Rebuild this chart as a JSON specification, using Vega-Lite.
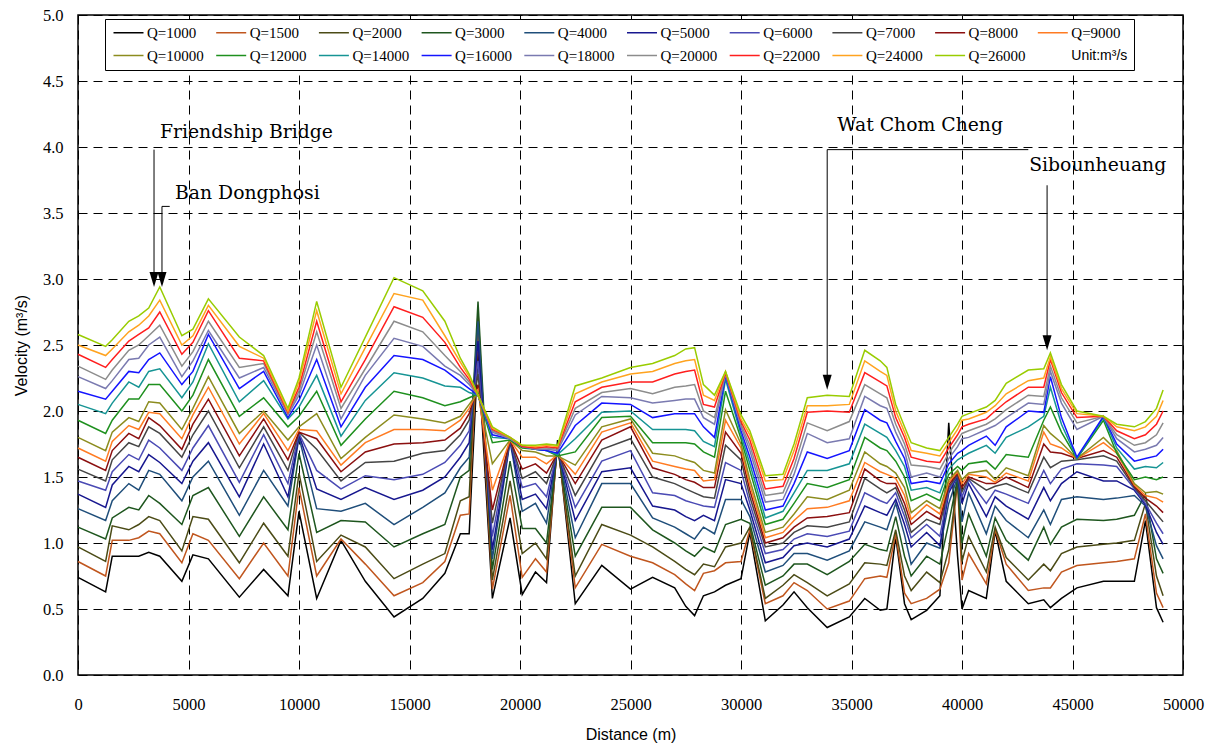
{
"$schema":"https://vega.github.io/schema/vega-lite/v6.json",
"width":1105,"height":660,
"autosize":{"type":"none"},
"padding":{"left":78,"top":15,"right":37,"bottom":72},
"background":"white",
"config":{
 "view":{"stroke":"black","strokeWidth":1.5},
 "axis":{"labelFont":"Liberation Serif","labelFontSize":16.5,"labelColor":"black","titleFont":"Liberation Sans","titleFontSize":16,"titleFontWeight":"normal","titleColor":"black","grid":true,"gridColor":"black","gridDash":[9,6],"gridWidth":1,"gridOpacity":1,"ticks":false,"domain":false,"labelFlush":false}
},
"layer":[
{
"data":{"values":[
{"d":0,"26000":2.58,"24000":2.50,"22000":2.43,"20000":2.34,"18000":2.26,"16000":2.15,"14000":2.05,"12000":1.93,"10000":1.80,"9000":1.72,"8000":1.65,"7000":1.56,"6000":1.47,"5000":1.37,"4000":1.26,"3000":1.12,"2000":0.97,"1500":0.86,"1000":0.74},
{"d":1250,"26000":2.49,"24000":2.42,"22000":2.33,"20000":2.24,"18000":2.17,"16000":2.09,"14000":1.98,"12000":1.83,"10000":1.70,"9000":1.62,"8000":1.55,"7000":1.47,"6000":1.40,"5000":1.27,"4000":1.17,"3000":1.03,"2000":0.86,"1500":0.75,"1000":0.63},
{"d":1550,"26000":2.54,"24000":2.47,"22000":2.39,"20000":2.31,"18000":2.23,"16000":2.15,"14000":2.06,"12000":1.93,"10000":1.84,"9000":1.77,"8000":1.70,"7000":1.63,"6000":1.54,"5000":1.44,"4000":1.32,"3000":1.19,"2000":1.13,"1500":1.02,"1000":0.90},
{"d":2300,"26000":2.68,"24000":2.60,"22000":2.53,"20000":2.46,"18000":2.39,"16000":2.30,"14000":2.22,"12000":2.09,"10000":1.95,"9000":1.89,"8000":1.83,"7000":1.76,"6000":1.67,"5000":1.58,"4000":1.45,"3000":1.27,"2000":1.10,"1500":1.02,"1000":0.90},
{"d":2750,"26000":2.72,"24000":2.65,"22000":2.58,"20000":2.50,"18000":2.40,"16000":2.29,"14000":2.18,"12000":2.09,"10000":1.92,"9000":1.86,"8000":1.79,"7000":1.73,"6000":1.63,"5000":1.54,"4000":1.40,"3000":1.25,"2000":1.14,"1500":1.04,"1000":0.90},
{"d":3200,"26000":2.78,"24000":2.72,"22000":2.63,"20000":2.57,"18000":2.50,"16000":2.39,"14000":2.30,"12000":2.20,"10000":2.07,"9000":1.99,"8000":1.95,"7000":1.88,"6000":1.78,"5000":1.67,"4000":1.55,"3000":1.36,"2000":1.20,"1500":1.09,"1000":0.93},
{"d":3700,"26000":2.94,"24000":2.84,"22000":2.75,"20000":2.65,"18000":2.56,"16000":2.44,"14000":2.32,"12000":2.20,"10000":2.06,"9000":1.98,"8000":1.89,"7000":1.83,"6000":1.72,"5000":1.61,"4000":1.52,"3000":1.30,"2000":1.17,"1500":1.07,"1000":0.90},
{"d":4700,"26000":2.57,"24000":2.50,"22000":2.43,"20000":2.34,"18000":2.26,"16000":2.20,"14000":2.10,"12000":2.00,"10000":1.86,"9000":1.79,"8000":1.71,"7000":1.65,"6000":1.55,"5000":1.45,"4000":1.32,"3000":1.14,"2000":0.94,"1500":0.85,"1000":0.71},
{"d":5200,"26000":2.62,"24000":2.57,"22000":2.52,"20000":2.45,"18000":2.38,"16000":2.30,"14000":2.22,"12000":2.12,"10000":2.02,"9000":1.97,"8000":1.90,"7000":1.82,"6000":1.72,"5000":1.62,"4000":1.50,"3000":1.36,"2000":1.20,"1500":1.07,"1000":0.91},
{"d":5900,"26000":2.85,"24000":2.80,"22000":2.76,"20000":2.68,"18000":2.61,"16000":2.58,"14000":2.51,"12000":2.39,"10000":2.26,"9000":2.18,"8000":2.09,"7000":2.00,"6000":1.89,"5000":1.76,"4000":1.62,"3000":1.42,"2000":1.18,"1500":1.02,"1000":0.88},
{"d":7300,"26000":2.56,"24000":2.49,"22000":2.40,"20000":2.33,"18000":2.25,"16000":2.17,"14000":2.07,"12000":1.96,"10000":1.83,"9000":1.75,"8000":1.66,"7000":1.57,"6000":1.46,"5000":1.35,"4000":1.21,"3000":1.05,"2000":0.85,"1500":0.73,"1000":0.59},
{"d":8400,"26000":2.42,"24000":2.40,"22000":2.38,"20000":2.36,"18000":2.33,"16000":2.30,"14000":2.23,"12000":2.10,"10000":2.00,"9000":1.98,"8000":1.94,"7000":1.88,"6000":1.82,"5000":1.75,"4000":1.55,"3000":1.35,"2000":1.15,"1500":1.00,"1000":0.80},
{"d":9500,"26000":2.02,"24000":2.00,"22000":1.99,"20000":1.98,"18000":1.97,"16000":1.95,"14000":1.94,"12000":1.88,"10000":1.78,"9000":1.70,"8000":1.63,"7000":1.55,"6000":1.45,"5000":1.35,"4000":1.28,"3000":1.10,"2000":0.90,"1500":0.75,"1000":0.60},
{"d":10000,"26000":2.25,"24000":2.22,"22000":2.18,"20000":2.15,"18000":2.12,"16000":2.08,"14000":2.03,"12000":1.96,"10000":1.88,"9000":1.86,"8000":1.84,"7000":1.84,"6000":1.83,"5000":1.82,"4000":1.80,"3000":1.68,"2000":1.53,"1500":1.42,"1000":1.24},
{"d":10800,"26000":2.83,"24000":2.76,"22000":2.68,"20000":2.60,"18000":2.50,"16000":2.39,"14000":2.27,"12000":2.15,"10000":1.98,"9000":1.85,"8000":1.79,"7000":1.71,"6000":1.55,"5000":1.41,"4000":1.26,"3000":1.08,"2000":0.86,"1500":0.75,"1000":0.58},
{"d":11900,"26000":2.18,"24000":2.13,"22000":2.07,"20000":2.02,"18000":1.94,"16000":1.88,"14000":1.81,"12000":1.74,"10000":1.64,"9000":1.59,"8000":1.54,"7000":1.47,"6000":1.41,"5000":1.33,"4000":1.24,"3000":1.17,"2000":1.06,"1500":1.03,"1000":1.02},
{"d":13000,"26000":2.56,"24000":2.48,"22000":2.39,"20000":2.32,"18000":2.27,"16000":2.18,"14000":2.08,"12000":1.94,"10000":1.80,"9000":1.76,"8000":1.69,"7000":1.61,"6000":1.51,"5000":1.42,"4000":1.30,"3000":1.16,"2000":0.97,"1500":0.84,"1000":0.71},
{"d":14300,"26000":3.01,"24000":2.89,"22000":2.79,"20000":2.68,"18000":2.55,"16000":2.42,"14000":2.29,"12000":2.15,"10000":1.97,"9000":1.86,"8000":1.75,"7000":1.62,"6000":1.48,"5000":1.33,"4000":1.14,"3000":0.97,"2000":0.73,"1500":0.60,"1000":0.44},
{"d":15600,"26000":2.91,"24000":2.84,"22000":2.71,"20000":2.60,"18000":2.49,"16000":2.39,"14000":2.25,"12000":2.10,"10000":1.94,"9000":1.86,"8000":1.76,"7000":1.68,"6000":1.52,"5000":1.40,"4000":1.27,"3000":1.07,"2000":0.84,"1500":0.70,"1000":0.58},
{"d":16600,"26000":2.68,"24000":2.57,"22000":2.52,"20000":2.42,"18000":2.34,"16000":2.31,"14000":2.19,"12000":2.04,"10000":1.91,"9000":1.85,"8000":1.78,"7000":1.70,"6000":1.61,"5000":1.50,"4000":1.38,"3000":1.14,"2000":0.92,"1500":0.86,"1000":0.77},
{"d":17300,"26000":2.40,"24000":2.37,"22000":2.33,"20000":2.30,"18000":2.27,"16000":2.22,"14000":2.18,"12000":2.07,"10000":1.96,"9000":1.93,"8000":1.87,"7000":1.82,"6000":1.74,"5000":1.65,"4000":1.57,"3000":1.50,"2000":1.32,"1500":1.21,"1000":1.07},
{"d":17700,"26000":2.28,"24000":2.26,"22000":2.24,"20000":2.22,"18000":2.20,"16000":2.17,"14000":2.14,"12000":2.10,"10000":2.05,"9000":2.02,"8000":1.98,"7000":1.93,"6000":1.85,"5000":1.76,"4000":1.65,"3000":1.55,"2000":1.35,"1500":1.22,"1000":1.07},
{"d":18100,"26000":2.12,"24000":2.12,"22000":2.12,"20000":2.12,"18000":2.12,"16000":2.12,"14000":2.12,"12000":2.13,"10000":2.14,"9000":2.16,"8000":2.20,"7000":2.28,"6000":2.38,"5000":2.53,"4000":2.68,"3000":2.83,"2000":2.75,"1500":2.60,"1000":2.45},
{"d":18750,"26000":1.88,"24000":1.87,"22000":1.86,"20000":1.85,"18000":1.84,"16000":1.82,"14000":1.80,"12000":1.76,"10000":1.60,"9000":1.40,"8000":1.25,"7000":1.15,"6000":1.05,"5000":0.95,"4000":0.88,"3000":0.80,"2000":0.72,"1500":0.65,"1000":0.58},
{"d":19550,"26000":1.80,"24000":1.80,"22000":1.80,"20000":1.79,"18000":1.79,"16000":1.79,"14000":1.79,"12000":1.78,"10000":1.78,"9000":1.78,"8000":1.78,"7000":1.78,"6000":1.78,"5000":1.78,"4000":1.77,"3000":1.62,"2000":1.47,"1500":1.36,"1000":1.19},
{"d":20100,"26000":1.74,"24000":1.74,"22000":1.73,"20000":1.73,"18000":1.73,"16000":1.73,"14000":1.73,"12000":1.72,"10000":1.70,"9000":1.65,"8000":1.56,"7000":1.49,"6000":1.42,"5000":1.33,"4000":1.24,"3000":1.11,"2000":0.92,"1500":0.74,"1000":0.61},
{"d":20700,"26000":1.74,"24000":1.73,"22000":1.72,"20000":1.72,"18000":1.71,"16000":1.71,"14000":1.71,"12000":1.71,"10000":1.69,"9000":1.65,"8000":1.60,"7000":1.54,"6000":1.45,"5000":1.37,"4000":1.30,"3000":1.11,"2000":1.00,"1500":0.88,"1000":0.78},
{"d":21200,"26000":1.75,"24000":1.74,"22000":1.73,"20000":1.72,"18000":1.71,"16000":1.70,"14000":1.70,"12000":1.70,"10000":1.66,"9000":1.60,"8000":1.53,"7000":1.45,"6000":1.35,"5000":1.26,"4000":1.15,"3000":1.00,"2000":0.88,"1500":0.78,"1000":0.70},
{"d":21700,"26000":1.74,"24000":1.73,"22000":1.72,"20000":1.71,"18000":1.70,"16000":1.68,"14000":1.67,"12000":1.66,"10000":1.66,"9000":1.67,"8000":1.68,"7000":1.69,"6000":1.70,"5000":1.71,"4000":1.72,"3000":1.73,"2000":1.74,"1500":1.75,"1000":1.78},
{"d":22500,"26000":2.19,"24000":2.13,"22000":2.07,"20000":2.02,"18000":1.97,"16000":1.89,"14000":1.79,"12000":1.69,"10000":1.59,"9000":1.52,"8000":1.45,"7000":1.36,"6000":1.27,"5000":1.17,"4000":1.04,"3000":0.90,"2000":0.75,"1500":0.66,"1000":0.54},
{"d":23700,"26000":2.25,"24000":2.22,"22000":2.18,"20000":2.14,"18000":2.11,"16000":2.06,"14000":1.99,"12000":1.95,"10000":1.88,"9000":1.84,"8000":1.78,"7000":1.71,"6000":1.62,"5000":1.54,"4000":1.45,"3000":1.27,"2000":1.14,"1500":0.99,"1000":0.83},
{"d":25000,"26000":2.33,"24000":2.28,"22000":2.22,"20000":2.17,"18000":2.10,"16000":2.05,"14000":2.00,"12000":1.96,"10000":1.94,"9000":1.91,"8000":1.88,"7000":1.79,"6000":1.70,"5000":1.57,"4000":1.45,"3000":1.27,"2000":1.06,"1500":0.90,"1000":0.65},
{"d":26000,"26000":2.36,"24000":2.30,"22000":2.22,"20000":2.13,"18000":2.06,"16000":1.95,"14000":1.86,"12000":1.76,"10000":1.68,"9000":1.62,"8000":1.57,"7000":1.50,"6000":1.38,"5000":1.28,"4000":1.19,"3000":1.10,"2000":0.97,"1500":0.85,"1000":0.74},
{"d":27000,"26000":2.42,"24000":2.36,"22000":2.28,"20000":2.18,"18000":2.08,"16000":1.98,"14000":1.86,"12000":1.76,"10000":1.66,"9000":1.58,"8000":1.52,"7000":1.45,"6000":1.36,"5000":1.25,"4000":1.12,"3000":1.00,"2000":0.86,"1500":0.76,"1000":0.66},
{"d":27500,"26000":2.47,"24000":2.38,"22000":2.30,"20000":2.19,"18000":2.09,"16000":1.98,"14000":1.86,"12000":1.76,"10000":1.63,"9000":1.56,"8000":1.48,"7000":1.41,"6000":1.32,"5000":1.20,"4000":1.07,"3000":0.94,"2000":0.80,"1500":0.69,"1000":0.52},
{"d":27900,"26000":2.48,"24000":2.39,"22000":2.31,"20000":2.20,"18000":2.09,"16000":1.98,"14000":1.85,"12000":1.75,"10000":1.61,"9000":1.55,"8000":1.46,"7000":1.38,"6000":1.30,"5000":1.17,"4000":1.03,"3000":0.90,"2000":0.76,"1500":0.64,"1000":0.45},
{"d":28300,"26000":2.20,"24000":2.12,"22000":2.05,"20000":2.00,"18000":1.95,"16000":1.88,"14000":1.77,"12000":1.69,"10000":1.55,"9000":1.47,"8000":1.42,"7000":1.35,"6000":1.28,"5000":1.21,"4000":1.12,"3000":0.97,"2000":0.84,"1500":0.77,"1000":0.60},
{"d":28800,"26000":2.12,"24000":2.08,"22000":2.03,"20000":1.95,"18000":1.90,"16000":1.80,"14000":1.73,"12000":1.65,"10000":1.53,"9000":1.48,"8000":1.42,"7000":1.34,"6000":1.27,"5000":1.17,"4000":1.07,"3000":0.93,"2000":0.82,"1500":0.79,"1000":0.63},
{"d":29300,"26000":2.30,"24000":2.30,"22000":2.29,"20000":2.29,"18000":2.28,"16000":2.27,"14000":2.24,"12000":2.15,"10000":2.01,"9000":1.93,"8000":1.84,"7000":1.74,"6000":1.61,"5000":1.48,"4000":1.33,"3000":1.14,"2000":0.97,"1500":0.85,"1000":0.68},
{"d":30000,"26000":1.97,"24000":1.94,"22000":1.92,"20000":1.90,"18000":1.88,"16000":1.85,"14000":1.82,"12000":1.79,"10000":1.75,"9000":1.72,"8000":1.68,"7000":1.63,"6000":1.55,"5000":1.45,"4000":1.33,"3000":1.18,"2000":1.00,"1500":0.86,"1000":0.73},
{"d":30400,"26000":1.85,"24000":1.82,"22000":1.78,"20000":1.74,"18000":1.70,"16000":1.65,"14000":1.60,"12000":1.55,"10000":1.48,"9000":1.44,"8000":1.40,"7000":1.35,"6000":1.30,"5000":1.25,"4000":1.20,"3000":1.15,"2000":1.12,"1500":1.10,"1000":1.08},
{"d":31100,"26000":1.51,"24000":1.47,"22000":1.41,"20000":1.36,"18000":1.31,"16000":1.25,"14000":1.19,"12000":1.14,"10000":1.08,"9000":1.04,"8000":1.00,"7000":0.97,"6000":0.92,"5000":0.85,"4000":0.78,"3000":0.68,"2000":0.58,"1500":0.54,"1000":0.41},
{"d":31900,"26000":1.52,"24000":1.48,"22000":1.43,"20000":1.38,"18000":1.33,"16000":1.28,"14000":1.24,"12000":1.18,"10000":1.12,"9000":1.08,"8000":1.04,"7000":1.00,"6000":0.95,"5000":0.89,"4000":0.83,"3000":0.75,"2000":0.68,"1500":0.60,"1000":0.53},
{"d":32400,"26000":1.75,"24000":1.70,"22000":1.64,"20000":1.58,"18000":1.52,"16000":1.45,"14000":1.38,"12000":1.30,"10000":1.22,"9000":1.17,"8000":1.12,"7000":1.08,"6000":1.03,"5000":0.98,"4000":0.92,"3000":0.84,"2000":0.76,"1500":0.70,"1000":0.63},
{"d":33000,"26000":2.10,"24000":2.04,"22000":1.99,"20000":1.91,"18000":1.83,"16000":1.69,"14000":1.55,"12000":1.45,"10000":1.35,"9000":1.26,"8000":1.19,"7000":1.13,"6000":1.07,"5000":1.00,"4000":0.92,"3000":0.84,"2000":0.70,"1500":0.64,"1000":0.51},
{"d":33900,"26000":2.12,"24000":2.04,"22000":2.00,"20000":1.85,"18000":1.76,"16000":1.64,"14000":1.55,"12000":1.42,"10000":1.33,"9000":1.27,"8000":1.20,"7000":1.12,"6000":1.05,"5000":0.97,"4000":0.87,"3000":0.76,"2000":0.60,"1500":0.50,"1000":0.36},
{"d":34900,"26000":2.11,"24000":2.05,"22000":1.99,"20000":1.92,"18000":1.79,"16000":1.70,"14000":1.60,"12000":1.48,"10000":1.40,"9000":1.32,"8000":1.23,"7000":1.16,"6000":1.09,"5000":1.03,"4000":0.94,"3000":0.86,"2000":0.69,"1500":0.56,"1000":0.44},
{"d":35600,"26000":2.46,"24000":2.38,"22000":2.29,"20000":2.20,"18000":2.11,"16000":2.01,"14000":1.90,"12000":1.80,"10000":1.69,"9000":1.61,"8000":1.56,"7000":1.49,"6000":1.38,"5000":1.28,"4000":1.16,"3000":0.99,"2000":0.85,"1500":0.73,"1000":0.58},
{"d":36300,"26000":2.38,"24000":2.30,"22000":2.22,"20000":2.13,"18000":2.04,"16000":1.93,"14000":1.83,"12000":1.72,"10000":1.60,"9000":1.54,"8000":1.47,"7000":1.41,"6000":1.32,"5000":1.23,"4000":1.12,"3000":0.95,"2000":0.84,"1500":0.75,"1000":0.49},
{"d":36600,"26000":2.33,"24000":2.27,"22000":2.19,"20000":2.10,"18000":2.02,"16000":1.91,"14000":1.80,"12000":1.70,"10000":1.58,"9000":1.52,"8000":1.45,"7000":1.38,"6000":1.30,"5000":1.21,"4000":1.10,"3000":0.94,"2000":0.83,"1500":0.74,"1000":0.50},
{"d":37000,"26000":2.05,"24000":2.00,"22000":1.95,"20000":1.90,"18000":1.84,"16000":1.77,"14000":1.70,"12000":1.62,"10000":1.53,"9000":1.49,"8000":1.45,"7000":1.42,"6000":1.38,"5000":1.33,"4000":1.30,"3000":1.20,"2000":1.10,"1500":1.07,"1000":1.05},
{"d":37400,"26000":1.88,"24000":1.84,"22000":1.80,"20000":1.75,"18000":1.70,"16000":1.64,"14000":1.58,"12000":1.50,"10000":1.42,"9000":1.36,"8000":1.30,"7000":1.25,"6000":1.20,"5000":1.14,"4000":1.06,"3000":0.90,"2000":0.75,"1500":0.62,"1000":0.54},
{"d":37700,"26000":1.76,"24000":1.70,"22000":1.65,"20000":1.59,"18000":1.50,"16000":1.45,"14000":1.40,"12000":1.32,"10000":1.23,"9000":1.18,"8000":1.14,"7000":1.08,"6000":1.04,"5000":0.97,"4000":0.84,"3000":0.75,"2000":0.64,"1500":0.54,"1000":0.42},
{"d":38400,"26000":1.72,"24000":1.68,"22000":1.62,"20000":1.58,"18000":1.53,"16000":1.47,"14000":1.42,"12000":1.37,"10000":1.32,"9000":1.29,"8000":1.24,"7000":1.18,"6000":1.14,"5000":1.08,"4000":1.00,"3000":0.90,"2000":0.78,"1500":0.58,"1000":0.49},
{"d":39000,"26000":1.70,"24000":1.66,"22000":1.61,"20000":1.56,"18000":1.50,"16000":1.45,"14000":1.38,"12000":1.32,"10000":1.26,"9000":1.22,"8000":1.18,"7000":1.14,"6000":1.05,"5000":0.98,"4000":0.96,"3000":0.84,"2000":0.70,"1500":0.65,"1000":0.60},
{"d":39400,"26000":1.80,"24000":1.76,"22000":1.72,"20000":1.68,"18000":1.64,"16000":1.60,"14000":1.56,"12000":1.52,"10000":1.48,"9000":1.46,"8000":1.44,"7000":1.42,"6000":1.40,"5000":1.38,"4000":1.30,"3000":1.15,"2000":0.95,"1500":0.85,"1000":1.91},
{"d":39800,"26000":1.90,"24000":1.86,"22000":1.82,"20000":1.78,"18000":1.73,"16000":1.68,"14000":1.63,"12000":1.58,"10000":1.55,"9000":1.54,"8000":1.53,"7000":1.52,"6000":1.52,"5000":1.51,"4000":1.50,"3000":1.49,"2000":1.48,"1500":1.46,"1000":0.90},
{"d":40000,"26000":1.96,"24000":1.93,"22000":1.88,"20000":1.83,"18000":1.79,"16000":1.70,"14000":1.65,"12000":1.55,"10000":1.48,"9000":1.45,"8000":1.42,"7000":1.39,"6000":1.35,"5000":1.30,"4000":1.16,"3000":1.00,"2000":0.86,"1500":0.72,"1000":0.50},
{"d":40300,"26000":1.98,"24000":1.94,"22000":1.90,"20000":1.85,"18000":1.80,"16000":1.74,"14000":1.68,"12000":1.60,"10000":1.53,"9000":1.52,"8000":1.50,"7000":1.49,"6000":1.48,"5000":1.45,"4000":1.38,"3000":1.22,"2000":1.05,"1500":0.92,"1000":0.64},
{"d":41100,"26000":2.03,"24000":1.99,"22000":1.94,"20000":1.90,"18000":1.86,"16000":1.81,"14000":1.74,"12000":1.62,"10000":1.55,"9000":1.50,"8000":1.45,"7000":1.40,"6000":1.30,"5000":1.20,"4000":1.07,"3000":0.90,"2000":0.78,"1500":0.69,"1000":0.58},
{"d":41500,"26000":2.08,"24000":2.04,"22000":2.00,"20000":1.94,"18000":1.89,"16000":1.74,"14000":1.68,"12000":1.56,"10000":1.48,"9000":1.46,"8000":1.45,"7000":1.43,"6000":1.40,"5000":1.35,"4000":1.28,"3000":1.19,"2000":1.12,"1500":1.10,"1000":1.09},
{"d":42000,"26000":2.21,"24000":2.13,"22000":2.07,"20000":2.01,"18000":1.95,"16000":1.88,"14000":1.80,"12000":1.67,"10000":1.57,"9000":1.53,"8000":1.50,"7000":1.45,"6000":1.37,"5000":1.28,"4000":1.17,"3000":1.02,"2000":0.89,"1500":0.84,"1000":0.71},
{"d":43000,"26000":2.31,"24000":2.23,"22000":2.18,"20000":2.12,"18000":2.06,"16000":2.00,"14000":1.88,"12000":1.65,"10000":1.51,"9000":1.47,"8000":1.42,"7000":1.38,"6000":1.30,"5000":1.18,"4000":1.04,"3000":0.87,"2000":0.72,"1500":0.64,"1000":0.54},
{"d":43700,"26000":2.32,"24000":2.25,"22000":2.18,"20000":2.11,"18000":2.05,"16000":1.99,"14000":1.96,"12000":1.93,"10000":1.89,"9000":1.84,"8000":1.75,"7000":1.65,"6000":1.55,"5000":1.42,"4000":1.25,"3000":1.12,"2000":0.84,"1500":0.66,"1000":0.57},
{"d":44000,"26000":2.44,"24000":2.41,"22000":2.39,"20000":2.34,"18000":2.30,"16000":2.26,"14000":2.18,"12000":2.03,"10000":1.83,"9000":1.75,"8000":1.69,"7000":1.57,"6000":1.45,"5000":1.32,"4000":1.14,"3000":0.99,"2000":0.79,"1500":0.66,"1000":0.51},
{"d":44500,"26000":2.20,"24000":2.17,"22000":2.14,"20000":2.10,"18000":2.06,"16000":1.95,"14000":1.90,"12000":1.84,"10000":1.76,"9000":1.72,"8000":1.68,"7000":1.62,"6000":1.56,"5000":1.45,"4000":1.33,"3000":1.12,"2000":0.92,"1500":0.78,"1000":0.58},
{"d":45200,"26000":2.00,"24000":1.98,"22000":1.95,"20000":1.91,"18000":1.86,"16000":1.65,"14000":1.64,"12000":1.64,"10000":1.64,"9000":1.64,"8000":1.64,"7000":1.63,"6000":1.60,"5000":1.54,"4000":1.35,"3000":1.18,"2000":0.97,"1500":0.83,"1000":0.66},
{"d":46400,"26000":1.96,"24000":1.96,"22000":1.96,"20000":1.96,"18000":1.96,"16000":1.96,"14000":1.95,"12000":1.93,"10000":1.80,"9000":1.76,"8000":1.70,"7000":1.66,"6000":1.59,"5000":1.47,"4000":1.33,"3000":1.17,"2000":0.99,"1500":0.85,"1000":0.71},
{"d":47000,"26000":1.90,"24000":1.88,"22000":1.85,"20000":1.82,"18000":1.79,"16000":1.75,"14000":1.72,"12000":1.68,"10000":1.70,"9000":1.68,"8000":1.65,"7000":1.62,"6000":1.58,"5000":1.47,"4000":1.34,"3000":1.18,"2000":1.00,"1500":0.86,"1000":0.71},
{"d":47800,"26000":1.88,"24000":1.85,"22000":1.79,"20000":1.74,"18000":1.69,"16000":1.62,"14000":1.56,"12000":1.48,"10000":1.45,"9000":1.44,"8000":1.43,"7000":1.42,"6000":1.41,"5000":1.40,"4000":1.36,"3000":1.21,"2000":1.02,"1500":0.88,"1000":0.71},
{"d":48300,"26000":1.92,"24000":1.88,"22000":1.82,"20000":1.76,"18000":1.71,"16000":1.64,"14000":1.58,"12000":1.50,"10000":1.38,"9000":1.36,"8000":1.34,"7000":1.32,"6000":1.30,"5000":1.29,"4000":1.28,"3000":1.37,"2000":1.30,"1500":1.22,"1000":1.17},
{"d":48800,"26000":2.02,"24000":1.96,"22000":1.90,"20000":1.82,"18000":1.74,"16000":1.66,"14000":1.57,"12000":1.48,"10000":1.39,"9000":1.34,"8000":1.28,"7000":1.22,"6000":1.15,"5000":1.08,"4000":0.98,"3000":0.88,"2000":0.75,"1500":0.62,"1000":0.51},
{"d":49100,"26000":2.16,"24000":2.08,"22000":2.00,"20000":1.91,"18000":1.80,"16000":1.71,"14000":1.61,"12000":1.50,"10000":1.37,"9000":1.31,"8000":1.23,"7000":1.16,"6000":1.07,"5000":0.99,"4000":0.88,"3000":0.77,"2000":0.60,"1500":0.51,"1000":0.40}
]},
"transform":[{"fold":["1000","1500","2000","3000","4000","5000","6000","7000","8000","9000","10000","12000","14000","16000","18000","20000","22000","24000","26000"],"as":["Q","v"]}],
"mark":{"type":"line","strokeWidth":1.5},
"encoding":{
 "x":{"field":"d","type":"quantitative","title":"Distance (m)","scale":{"domain":[0,50000],"nice":false,"zero":false},"axis":{"values":[0,5000,10000,15000,20000,25000,30000,35000,40000,45000,50000],"format":"d","labelPadding":21,"titlePadding":14}},
 "y":{"field":"v","type":"quantitative","title":"Velocity (m³/s)","scale":{"domain":[0,5],"nice":false},"axis":{"values":[0,0.5,1,1.5,2,2.5,3,3.5,4,4.5,5],"format":".1f","labelPadding":15,"titlePadding":13}},
 "color":{"field":"Q","type":"nominal",
  "scale":{"domain":["1000","1500","2000","3000","4000","5000","6000","7000","8000","9000","10000","12000","14000","16000","18000","20000","22000","24000","26000","U"],
   "range":["#000000","#c0561e","#4b4b16","#1e561e","#1f4e7a","#17178f","#4a4ab4","#454545","#8b0f0f","#ff7b22","#8c8c1e","#1e901e","#169494","#1414ff","#7a7ab0","#8c8c8c","#ff1e1e","#ffa31f","#99cc00","rgba(0,0,0,0)"]},
  "legend":{"title":null,"orient":"none","legendX":27,"legendY":4,"direction":"horizontal","columns":10,"gridAlign":"each","symbolType":"M-1,0L5,0","symbolSize":100,"symbolStrokeWidth":1.5,"labelFont":"Liberation Serif","labelFontSize":15,"labelColor":"black","labelOffset":21,"labelLimit":300,"columnPadding":8.7,"rowPadding":7,"padding":6,"strokeColor":"black","fillColor":"white",
   "labelExpr":"datum.label == 'U' ? 'Unit:m³/s\u00a0\u00a0\u00a0\u00a0\u00a0\u00a0\u00a0\u00a0\u00a0' : 'Q=' + datum.label",
   "encode":{"labels":{"update":{"font":{"signal":"datum.value == 'U' ? 'Liberation Sans' : 'Liberation Serif'"},"fontSize":{"signal":"datum.value == 'U' ? 14 : 15"}}}}}
 }
}
},
{
"data":{"values":[
{"x":3440,"y":3.98,"x2":3440,"y2":3.0},
{"x":4150,"y":3.55,"x2":3800,"y2":3.55},
{"x":3800,"y":3.55,"x2":3800,"y2":3.0},
{"x":33900,"y":3.98,"x2":43000,"y2":3.98},
{"x":33900,"y":3.98,"x2":33900,"y2":2.22},
{"x":43850,"y":3.71,"x2":43850,"y2":2.51}
]},
"mark":{"type":"rule","color":"black","strokeWidth":1},
"encoding":{"x":{"field":"x","type":"quantitative","title":"Distance (m)"},"y":{"field":"y","type":"quantitative","title":"Velocity (m³/s)"},"x2":{"field":"x2"},"y2":{"field":"y2"}}
},
{
"data":{"values":[
{"x":3440,"y":2.997},
{"x":3800,"y":2.997},
{"x":33900,"y":2.217},
{"x":43850,"y":2.517}
]},
"mark":{"type":"point","shape":"M-0.6,-1L0.6,-1L0,1Z","size":225,"filled":true,"color":"black","opacity":1},
"encoding":{"x":{"field":"x","type":"quantitative","title":"Distance (m)"},"y":{"field":"y","type":"quantitative","title":"Velocity (m³/s)"}}
},
{
"data":{"values":[
{"x":3710,"y":4.11,"t":"Friendship Bridge"},
{"x":4390,"y":3.65,"t":"Ban Dongphosi"},
{"x":34360,"y":4.17,"t":"Wat Chom Cheng"},
{"x":43040,"y":3.86,"t":"Sibounheuang"}
]},
"mark":{"type":"text","align":"left","baseline":"middle","font":"DejaVu Serif","fontSize":18.8,"color":"black"},
"encoding":{"x":{"field":"x","type":"quantitative","title":"Distance (m)"},"y":{"field":"y","type":"quantitative","title":"Velocity (m³/s)"},"text":{"field":"t"}}
}
]
}
